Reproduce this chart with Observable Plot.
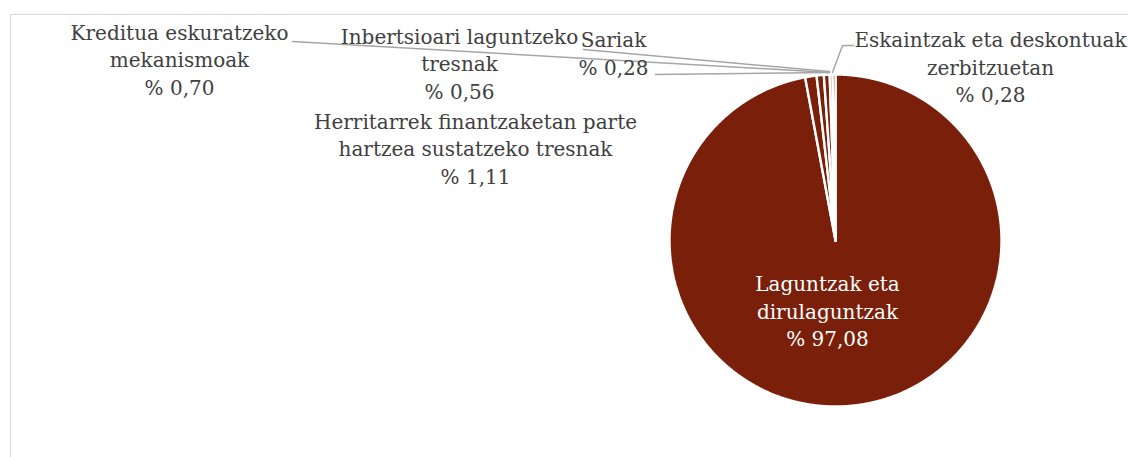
<!DOCTYPE html>
<html>
<head>
<meta charset="utf-8">
<script src="https://cdn.jsdelivr.net/npm/d3@7"></script>
<script src="https://cdn.jsdelivr.net/npm/@observablehq/plot@0.6"></script>
<style>
  html, body { margin: 0; padding: 0; background: #fff; }
  #wrap { position: relative; width: 1128px; height: 457px; overflow: hidden; }
  #frame { position: absolute; left: 10px; top: 14px; width: 1130px; height: 460px;
           border-top: 1.5px solid #d9d9d9; border-left: 1.5px solid #d9d9d9; pointer-events: none; }
  svg { display: block; }
</style>
</head>
<body>
<div id="wrap"><div id="frame"></div></div>
<script>
// ---- data ----
const categories = [
  "Laguntzak eta dirulaguntzak",
  "Herritarrek finantzaketan parte hartzea sustatzeko tresnak",
  "Kreditua eskuratzeko mekanismoak",
  "Inbertsioari laguntzeko tresnak",
  "Sariak",
  "Eskaintzak eta deskontuak zerbitzuetan"
];
const shares = [97.08, 1.11, 0.70, 0.56, 0.28, 0.28];
const labelLines = [
  "Laguntzak eta\ndirulaguntzak",
  "Herritarrek finantzaketan parte\nhartzea sustatzeko tresnak",
  "Kreditua eskuratzeko\nmekanismoak",
  "Inbertsioari laguntzeko\ntresnak",
  "Sariak",
  "Eskaintzak eta deskontuak\nzerbitzuetan"
];

// ---- layout (pixels) ----
const W = 1128, H = 457;
const CX = 835, CY = 240, R = 166;
const labelPos = [ // block centre of each data label
  {px: 827, py: 309.5, color: "#ffffff"},
  {px: 475, py: 147, color: "#404040"},
  {px: 179, py: 58, color: "#404040"},
  {px: 459, py: 62, color: "#404040"},
  {px: 613, py: 51.5, color: "#404040"},
  {px: 990, py: 65.5, color: "#404040"}
];
const leaderPaths = [ // leader lines (pixels), index into categories
  {i: 2, pts: [[292, 41], [829, 72]]},
  {i: 3, pts: [[583, 49], [829, 71]]},
  {i: 4, pts: [[655, 74], [829, 72]]},
  {i: 5, pts: [[832, 72], [842, 45], [853, 45]]}
];

const X = px => (px - CX) / R;
const Y = py => (CY - py) / R;
const fmt = v => "% " + v.toFixed(2).replace(".", ",");

// pie geometry from data
const arcs = d3.pie().sort(null).value(d => d)(shares);
const slicePts = [];
arcs.forEach((a, i) => {
  slicePts.push({cat: categories[i], x: 0, y: 0});
  const n = Math.max(2, Math.ceil((a.endAngle - a.startAngle) / 0.004));
  for (let k = 0; k <= n; k++) {
    const t = a.startAngle + (a.endAngle - a.startAngle) * k / n;
    slicePts.push({cat: categories[i], x: Math.sin(t), y: Math.cos(t)});
  }
  slicePts.push({cat: categories[i], x: 0, y: 0});
});

const labels = categories.map((c, i) => ({
  cat: c,
  text: labelLines[i] + "\n" + fmt(shares[i]),
  x: X(labelPos[i].px), y: Y(labelPos[i].py), color: labelPos[i].color
}));

const leaders = [];
leaderPaths.forEach(l => l.pts.forEach(p => leaders.push({cat: categories[l.i], x: X(p[0]), y: Y(p[1])})));

const chart = Plot.plot({
  width: W, height: H,
  margin: 0,
  style: {background: "transparent", overflow: "visible"},
  x: {domain: [X(0), X(W)], range: [0, W], axis: null},
  y: {domain: [Y(H), Y(0)], range: [H, 0], axis: null},
  marks: [
    Plot.line(slicePts, {x: "x", y: "y", z: "cat", fill: "#7a200a", stroke: "#ffffff", strokeWidth: 2.4, strokeLinejoin: "miter", curve: "linear"}),
    Plot.line(leaders, {x: "x", y: "y", z: "cat", stroke: "#a6a6a6", strokeWidth: 1.5, curve: "linear"}),
    Plot.text(labels, {x: "x", y: "y", text: "text", fill: "color", fontSize: 20, fontFamily: "DejaVu Serif", lineHeight: 1.38, textAnchor: "middle"})
  ]
});
document.getElementById("wrap").prepend(chart);
</script>
</body>
</html>
